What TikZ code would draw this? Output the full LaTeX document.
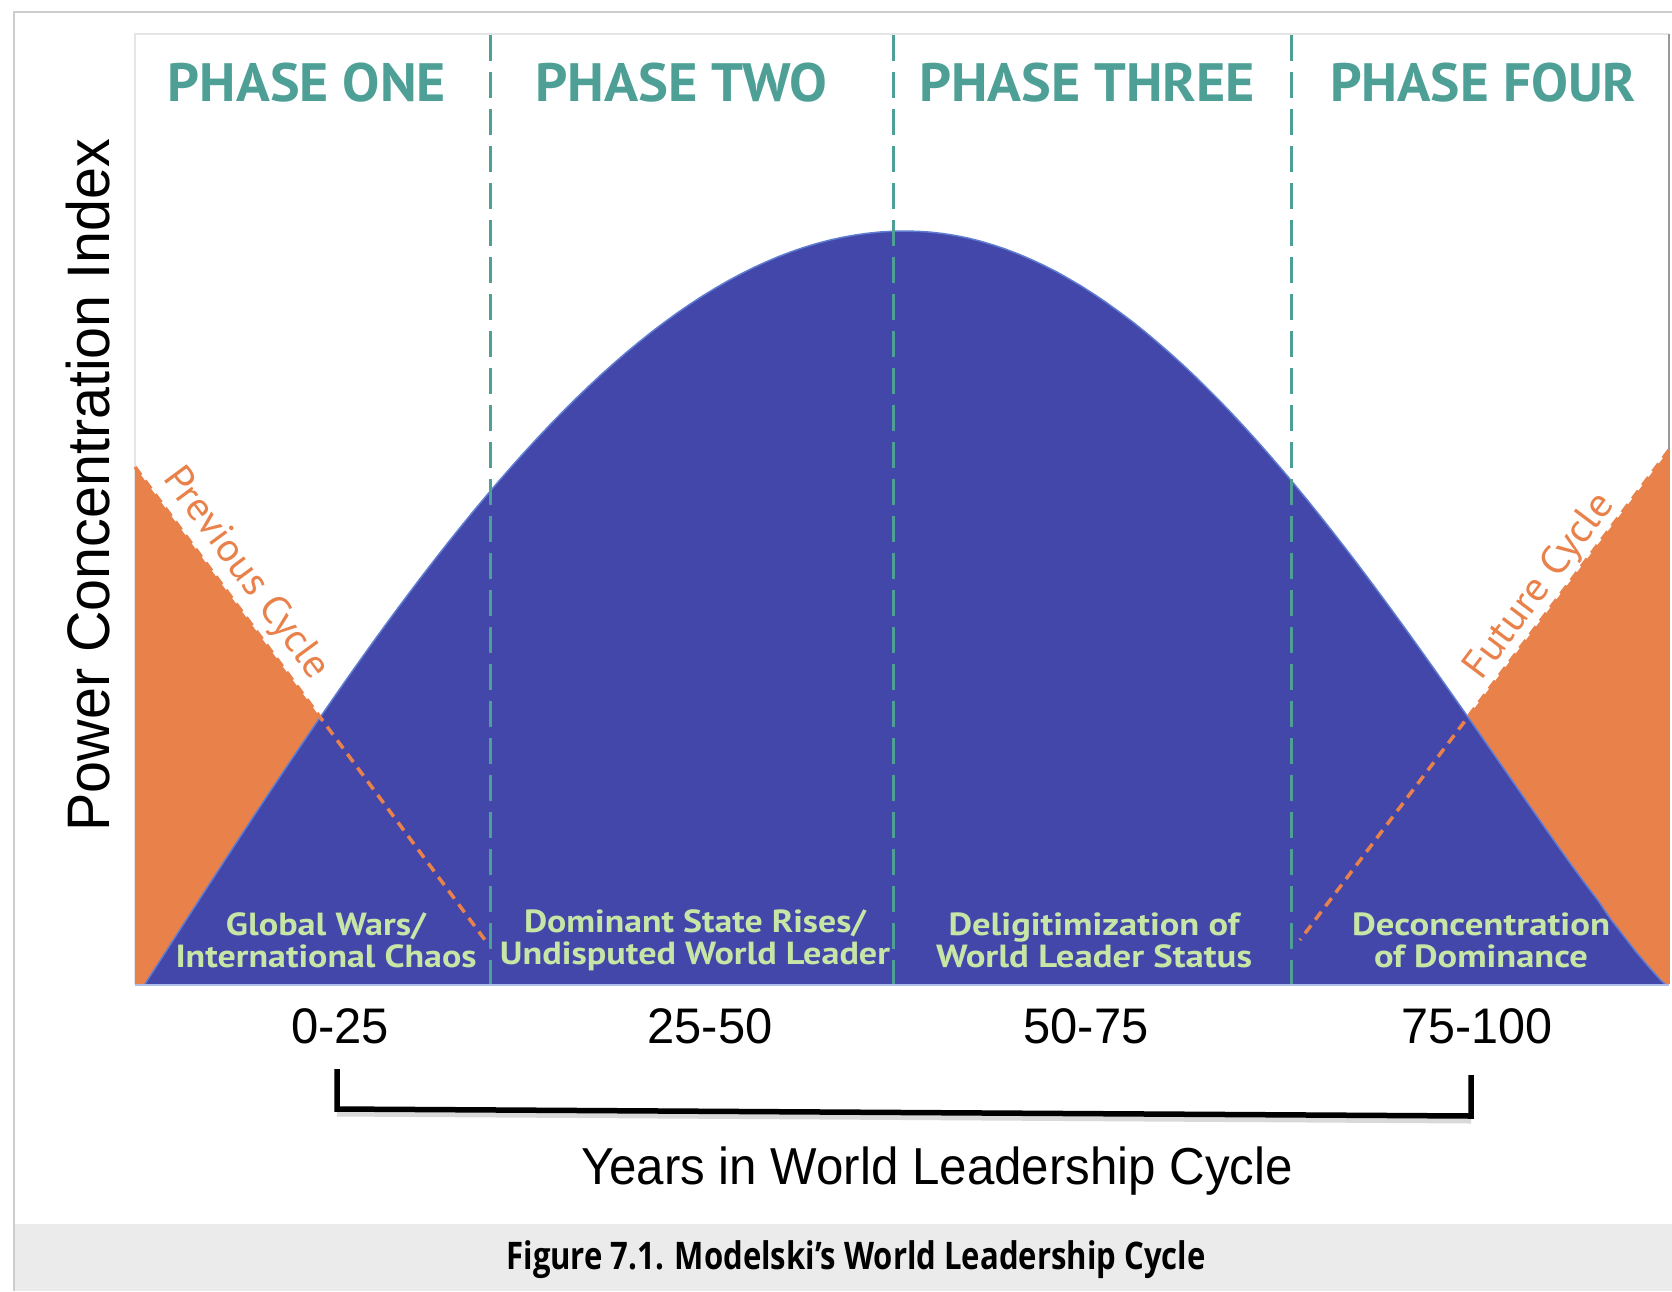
\documentclass[tikz,border=0pt]{standalone}
\usepackage{fontspec}
\usepackage{graphicx}
\setmainfont{Liberation Sans}
\newfontfamily\ptsans{PT Sans}
\newfontfamily\opensans{Open Sans}
\definecolor{bandblue}{RGB}{67,71,169}
\definecolor{edgeblue}{RGB}{95,125,210}
\definecolor{orng}{RGB}{233,129,75}
\definecolor{tealc}{RGB}{78,160,151}
\definecolor{lgreen}{RGB}{200,229,166}
\definecolor{capgray}{RGB}{235,235,235}
\definecolor{framegray}{RGB}{205,205,205}
\newcommand\fitto[2]{\resizebox{#1}{\height}{#2}}
\tikzset{
  phasetxt/.style={text=tealc, font=\ptsans\bfseries\fontsize{54}{58}\selectfont, inner sep=0pt},
  lbl/.style={text=lgreen, font=\ptsans\bfseries\fontsize{32}{32}\selectfont, align=center, inner sep=0pt},
  cyclelbl/.style={text=orng, font=\ptsans\fontsize{40}{42}\selectfont, inner sep=0pt, anchor=base},
  ticklbl/.style={text=black, font=\fontsize{50}{54}\selectfont, inner sep=0pt},
  phaseline/.style={tealc, line width=3pt, dash pattern=on 26pt off 11pt},
  cycleline/.style={orng, line width=3.5pt, dash pattern=on 10pt off 7pt},
}
\begin{document}
\begin{tikzpicture}[x=1pt,y=-1pt]
\useasboundingbox (0,0) rectangle (1672,1291);
\fill[white] (0,0) rectangle (1672,1291);
% caption band and outer frame
\fill[capgray] (14,1224) rectangle (1672,1291);
\draw[framegray, line width=2pt] (14,1291) -- (14,12) -- (1672,12);
% chart frame
\draw[black!10, line width=2pt] (135,984) -- (135,34) -- (1669,34);
\draw[black!40, line width=2pt] (1669,34) -- (1669,984);
% key points
\coordinate (A) at (135,467);
\coordinate (E1) at (485,940);
\coordinate (B) at (1669,450);
\coordinate (E2) at (1300,940);
% orange cycles
\fill[orng] (A) -- (E1) -- (485,984) -- (135,984) -- cycle;
\fill[orng] (B) -- (E2) -- (1300,984) -- (1669,984) -- cycle;
% blue leadership curve
\fill[bandblue] plot[domain=-90:0, samples=61, variable=\t] ({905+\t*8.4444}, {984-753*cos(\t)})
  -- plot[domain=0:89.5, samples=61, variable=\t] ({905+\t*8.4444}, {984-753*(max(cos(\t),0.001))^1.12})
  -- (1665,984) -- cycle;
\draw[edgeblue, line width=1.5pt] plot[domain=-90:0, samples=61, variable=\t] ({905+\t*8.4444}, {984-753*cos(\t)})
  -- plot[domain=0:89.5, samples=61, variable=\t] ({905+\t*8.4444}, {984-753*(max(cos(\t),0.001))^1.12})
  -- (1665,984);
\draw[edgeblue!50, line width=2pt] (135,985) -- (1669,985);
% dashed cycle lines
\draw[cycleline] (A) -- (E1);
\draw[cycleline] (B) -- (E2);
% phase dividers
\foreach \x in {490,893,1291} \draw[phaseline] (\x,35) -- (\x,984);
% phase titles
\foreach \x/\w/\t [count=\i] in {307/278/PHASE ONE, 681/292/PHASE TWO, 1087/336/PHASE THREE, 1483/306/PHASE FOUR}{
  \node[phasetxt] (ph\i) at (\x,83) {\fitto{\w pt}{\t}};
}
% labels inside the curve
\node[lbl] (l1) at (326,940) {\fitto{200pt}{Global Wars/}\\\fitto{301pt}{International Chaos}};
\node[lbl] (l2) at (695,940) {\fitto{342pt}{Dominant State Rises/}\\\fitto{390pt}{Undisputed World Leader}};
\node[lbl] (l3) at (1094,940) {\fitto{291pt}{Deligitimization of}\\\fitto{316pt}{World Leader Status}};
\node[lbl] (l4) at (1481,940) {\fitto{258pt}{Deconcentration}\\\fitto{214pt}{of Dominance}};
% cycle labels
\node[cyclelbl, rotate=-53.5] (prev) at (237,580) {\fitto{252pt}{Previous Cycle}};
\node[cyclelbl, rotate=53] (fut) at (1548,593) {\fitto{222pt}{Future Cycle}};
% axis label
\node[rotate=90, inner sep=0pt, font=\fontsize{60}{64}\selectfont] (ylab) at (88,485) {\fitto{693pt}{Power Concentration Index}};
% ticks
\node[ticklbl] (t1) at (340,1026) {\fitto{98pt}{0-25}};
\node[ticklbl] (t2) at (710,1026) {\fitto{125pt}{25-50}};
\node[ticklbl] (t3) at (1086,1026) {\fitto{125pt}{50-75}};
\node[ticklbl] (t4) at (1477,1026) {\fitto{151pt}{75-100}};
% bracket
\coordinate (bl1) at (337,1069);
\coordinate (bl2) at (337,1109);
\coordinate (br2) at (1471,1116);
\coordinate (br1) at (1471,1075);
\draw[black, opacity=0.15, line width=7pt] ([yshift=-4pt]bl2) -- ([yshift=-4pt]br2);
\draw[black, line width=5.5pt, line join=miter] (bl1) -- (bl2) -- (br2) -- (br1);
% x-axis title
\node[anchor=base, inner sep=0pt, font=\fontsize{52}{56}\selectfont] (xlab) at (937,1184) {\fitto{712pt}{Years in World Leadership Cycle}};
% caption
\node[anchor=base, inner sep=0pt, font=\opensans\bfseries\fontsize{38}{42}\selectfont] (cap) at (856,1269) {\fitto{699pt}{Figure 7.1. Modelski’s World Leadership Cycle}};
\end{tikzpicture}
\end{document}
